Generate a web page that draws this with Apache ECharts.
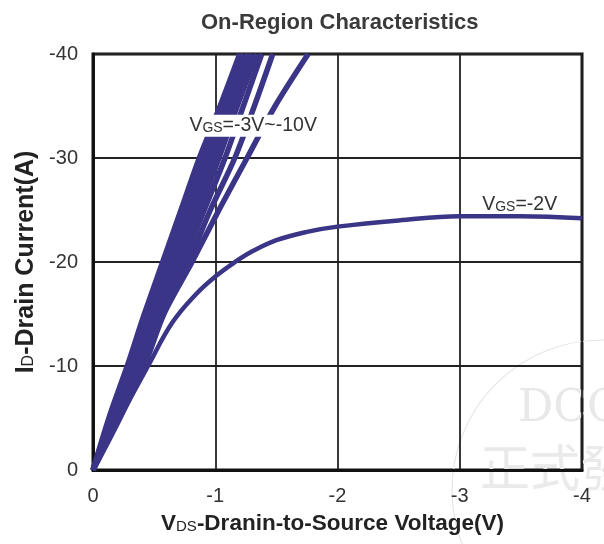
<!DOCTYPE html>
<html><head><meta charset="utf-8">
<script src="https://cdn.jsdelivr.net/npm/echarts@6/dist/echarts.min.js"></script>
<style>html,body{margin:0;padding:0;background:#fff}#c{width:604px;height:544px}</style>
</head><body><div id="c"></div>
<script>
// Drain current levels (A) for the VGS = -3V .. -10V family
const idLevels = [0, -5, -10, -15, -20, -25, -30, -35, -40];
// Drain-source voltage (V) at each current level, per gate voltage
const vdsVgs10 = [0, -0.13, -0.28, -0.42, -0.57, -0.72, -0.87, -1.04, -1.20];
const vdsVgs9  = [0, -0.14, -0.30, -0.44, -0.60, -0.76, -0.91, -1.07, -1.23];
const vdsVgs8  = [0, -0.15, -0.32, -0.46, -0.63, -0.79, -0.95, -1.10, -1.27];
const vdsVgs7  = [0, -0.16, -0.33, -0.48, -0.66, -0.83, -0.99, -1.14, -1.30];
const vdsVgs6  = [0, -0.17, -0.35, -0.51, -0.70, -0.87, -1.03, -1.18, -1.34];
const vdsVgs5  = [0, -0.19, -0.37, -0.54, -0.74, -0.91, -1.08, -1.23, -1.38];
const vdsVgs4  = [0, -0.20, -0.39, -0.56, -0.78, -0.96, -1.16, -1.32, -1.47];
const vdsVgs3  = [0, -0.22, -0.42, -0.58, -0.81, -1.03, -1.26, -1.49, -1.76];
// VGS = -2V curve
const vgs2Vds = [0, -0.22, -0.45, -0.65, -0.85, -1.00, -1.15, -1.30, -1.50, -1.75, -2.00, -2.50, -3.00, -3.50, -4.00];
const vgs2Id  = [0, -5, -10, -14.2, -17.0, -18.6, -19.9, -21.0, -22.1, -22.9, -23.4, -24.0, -24.4, -24.4, -24.2];
// Axis ticks
const xTicks = [0, -1, -2, -3, -4];
const yTicks = [0, -10, -20, -30, -40];
// Curve labels: [Vds, Id] anchor
const labelFamily = { sub: 'GS', pos: [-1.31, -33.1], rest: '=-3V~-10V' };
const labelVgs2 = { sub: 'GS', pos: [-3.49, -25.5], rest: '=-2V' };

const family = [vdsVgs10, vdsVgs9, vdsVgs8, vdsVgs7, vdsVgs6, vdsVgs5, vdsVgs4, vdsVgs3];
const CURVE = '#3b3587';
const FONT = '"Liberation Sans", Arial, sans-serif';

const series = family.map(v => ({
  type: 'line', smooth: 0.3, showSymbol: false, clip: true, z: 3,
  lineStyle: { color: CURVE, width: 5.5 },
  data: v.map((x, i) => [x, idLevels[i]])
}));
series.push({
  type: 'line', smooth: 0.4, showSymbol: false, clip: true, z: 3,
  lineStyle: { color: CURVE, width: 4.5 },
  data: vgs2Vds.map((x, i) => [x, vgs2Id[i]])
});
function labelSeries(l, bg) {
  return {
    type: 'scatter', symbolSize: 0, z: 10, zlevel: 1, silent: true,
    data: [l.pos],
    label: {
      show: true, position: 'inside', opacity: 1,
      formatter: '{v|V}{s|' + l.sub + '}{v|' + l.rest + '}',
      backgroundColor: bg, padding: [1, 2],
      rich: {
        v: { fontSize: 19.5, color: '#333', fontFamily: FONT },
        s: { fontSize: 14, color: '#333', fontFamily: FONT, padding: [5, 0, 0, 0] }
      }
    }
  };
}
series.push(labelSeries(labelFamily, '#ffffff'));
series.push(labelSeries(labelVgs2, 'transparent'));

const chart = echarts.init(document.getElementById('c'), null, { renderer: 'canvas' });
chart.setOption({
  animation: false,
  backgroundColor: '#fff',
  title: {
    text: 'On-Region Characteristics', left: 196, top: 7,
    textStyle: { fontSize: 22, fontWeight: 'bold', color: '#3a3a3a', fontFamily: FONT }
  },
  grid: { left: 93, right: 22, top: 54, bottom: 74, show: true, borderColor: '#111', borderWidth: 3 },
  xAxis: {
    type: 'value', min: -4, max: 0, interval: 1, inverse: true,
    axisLine: { show: true, onZero: false, lineStyle: { color: '#111', width: 3 } },
    axisTick: { show: false },
    splitLine: { show: true, lineStyle: { color: '#222', width: 1.8 } },
    axisLabel: { fontSize: 20, color: '#333', margin: 16, fontFamily: FONT },
    name: 'V{s|DS}-Dranin-to-Source Voltage(V)', nameLocation: 'middle', nameGap: 42,
    nameTextStyle: {
      fontSize: 22.5, fontWeight: 'bold', color: '#222', fontFamily: FONT, padding: [0, 10, 0, 0],
      rich: { s: { fontSize: 15, fontWeight: 'normal', color: '#222', fontFamily: FONT, padding: [6, 0, 0, 0] } }
    }
  },
  yAxis: {
    type: 'value', min: -40, max: 0, interval: 10, inverse: true,
    axisLine: { show: true, onZero: false, lineStyle: { color: '#111', width: 3 } },
    axisTick: { show: false },
    splitLine: { show: true, lineStyle: { color: '#222', width: 1.8 } },
    axisLabel: { fontSize: 20, color: '#333', margin: 15, fontFamily: FONT },
    name: 'I{s|D}-Drain Current(A)', nameLocation: 'middle', nameGap: 53, nameRotate: 90,
    nameTextStyle: {
      fontSize: 25, fontWeight: 'bold', color: '#222', fontFamily: FONT,
      rich: { s: { fontSize: 16, fontWeight: 'normal', color: '#222', fontFamily: FONT, padding: [6, 0, 0, 0] } }
    }
  },
  graphic: [
    { type: 'circle', shape: { cx: 602, cy: 490, r: 150 }, style: { fill: 'none', stroke: '#e6e6e6', lineWidth: 1.2 }, z: 0, silent: true },
    { type: 'text', x: 518, y: 388, style: { text: 'DCC', font: '44px "DejaVu Serif", serif', fill: '#e8e8e8' }, z: 0, silent: true },
    { type: 'text', x: 480, y: 442, style: { text: '正式發行', font: '50px "Noto Sans CJK TC", sans-serif', fill: '#eaeaea' }, z: 0, silent: true }
  ],
  series: series
});
</script></body></html>
